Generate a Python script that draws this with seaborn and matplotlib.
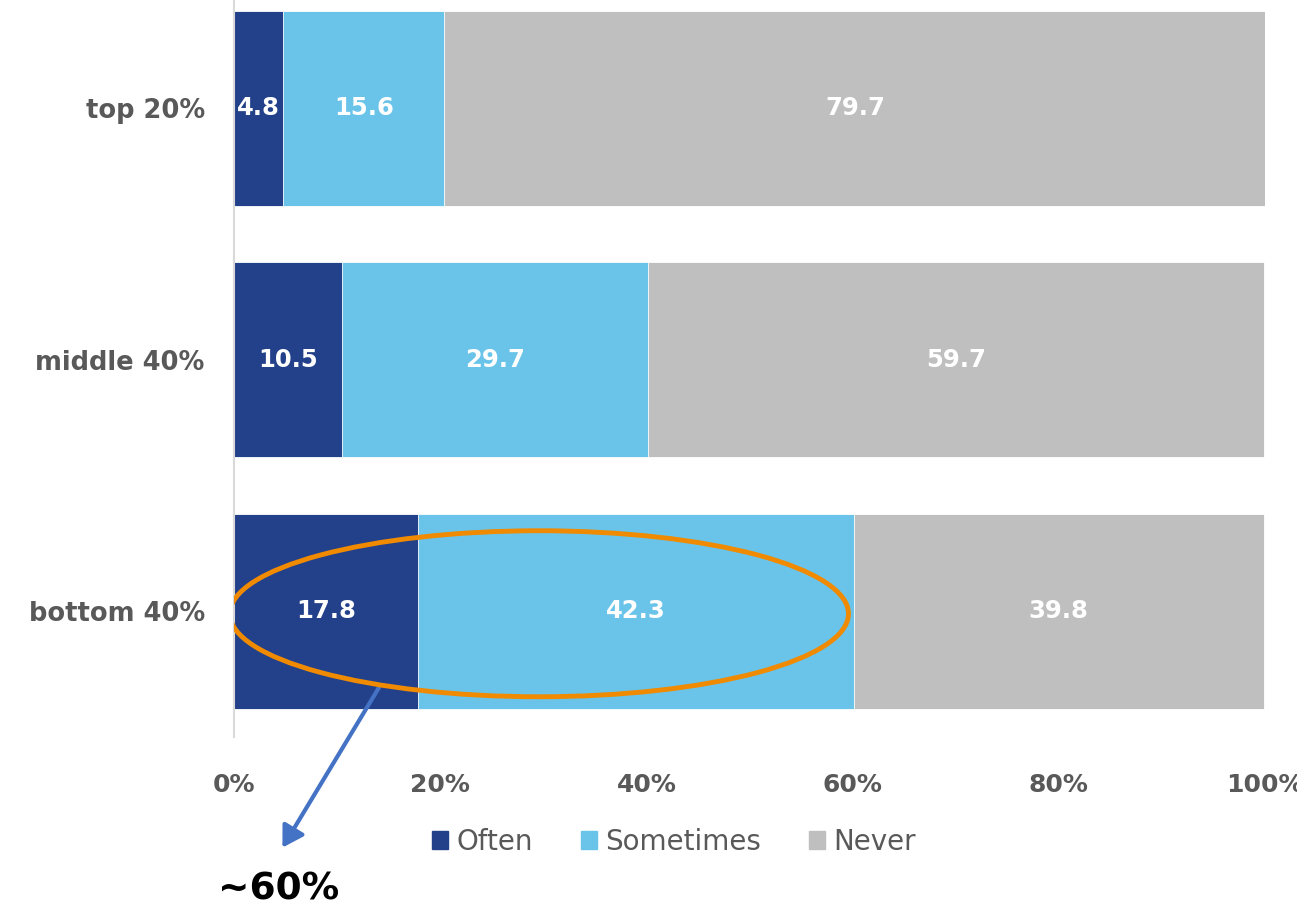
import pandas as pd
import matplotlib.pyplot as plt
import seaborn as sns
from matplotlib.patches import Ellipse

groups = ["top 20%", "middle 40%", "bottom 40%"]
often = [4.8, 10.5, 17.8]
sometimes = [15.6, 29.7, 42.3]
never = [79.7, 59.7, 39.8]
series = ["Often", "Sometimes", "Never"]
colors = ["#23418A", "#6AC4EA", "#BFBFBF"]
x_ticks = [0, 20, 40, 60, 80, 100]

sns.set_theme(style="white")
plt.rcParams["font.family"] = ["DejaVu Sans"]

df = pd.DataFrame({"group": groups, "Often": often,
                   "Sometimes": sometimes, "Never": never})
df["c1"] = df["Often"]
df["c2"] = df["Often"] + df["Sometimes"]
df["c3"] = df["c2"] + df["Never"]

fig = plt.figure(figsize=(12.97, 9.10), dpi=100)
ax = fig.add_axes([234 / 1297, 1 - 737 / 910, 1031 / 1297, 737 / 910])

# stacked bars: draw cumulative totals back to front
for col, color in zip(["c3", "c2", "c1"], colors[::-1]):
    sns.barplot(data=df, y="group", x=col, color=color, width=0.775,
                orient="h", saturation=1, edgecolor="white", linewidth=0.6, ax=ax)

# value labels in the middle of each segment
for i, row in df.iterrows():
    starts = [0, row["c1"], row["c2"]]
    for s, v in zip(starts, [row["Often"], row["Sometimes"], row["Never"]]):
        ax.text(s + v / 2, i, f"{v:.1f}", ha="center", va="center",
                color="white", fontsize=17.5, fontweight="bold")

ax.set_xlim(0, 100)
ax.set_ylim(2.5, -0.43)
ax.set_xticks(x_ticks)
ax.set_xticklabels([f"{t}%" for t in x_ticks])
ax.set_xlabel("")
ax.set_ylabel("")
ax.tick_params(axis="x", length=0, pad=26, labelsize=18, labelcolor="#595959")
ax.tick_params(axis="y", length=0, pad=21, labelsize=18.5, labelcolor="#595959")
for lab in ax.get_xticklabels() + ax.get_yticklabels():
    lab.set_fontweight("bold")
for side in ["top", "right", "bottom"]:
    ax.spines[side].set_visible(False)
ax.spines["left"].set_color("#D9D9D9")
ax.spines["left"].set_linewidth(1.5)

# highlight ellipse around bottom group
ax.add_patch(Ellipse((29.6, 2.01), 60.0, 0.66, fill=False,
                     edgecolor="#F08A00", linewidth=3.5, zorder=5))
ax.annotate("", xy=(281 / 1297, 1 - 850 / 910), xycoords="figure fraction",
            xytext=(14.2, 2.294), textcoords="data",
            arrowprops=dict(arrowstyle="-|>,head_length=0.5,head_width=0.3",
                            color="#4472C4", lw=3, mutation_scale=25),
            annotation_clip=False)
fig.text(279 / 1297, 1 - 890 / 910, "~60%", ha="center", va="center",
         fontsize=27, fontweight="bold", color="black")

# legend
handles = [plt.Rectangle((0, 0), 1, 1, color=c) for c in colors]
fig.legend(handles, series, loc="center", bbox_to_anchor=(674 / 1297, 1 - 842 / 910),
           ncol=3, frameon=False, fontsize=20, handlelength=0.6, handleheight=0.6,
           handletextpad=0.3, columnspacing=1.7, labelcolor="#595959")

fig.savefig("out.png", dpi=100)
